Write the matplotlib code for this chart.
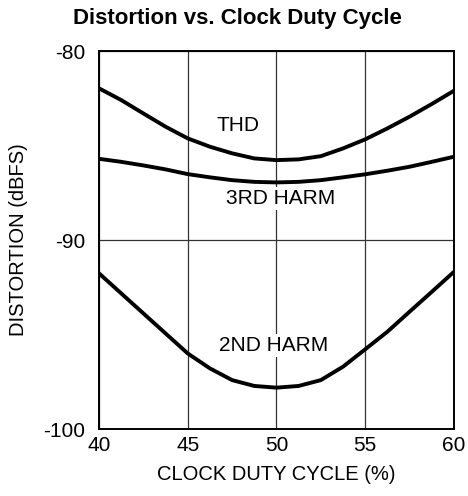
import numpy as np
import matplotlib
matplotlib.use('Agg')
import matplotlib.pyplot as plt

plt.rcParams['font.family'] = ['Liberation Sans', 'DejaVu Sans']

# Values
duty = [40, 41.25, 42.5, 43.75, 45, 46.25, 47.5, 48.75, 50,
        51.25, 52.5, 53.75, 55, 56.25, 57.5, 58.75, 60]
thd = [-81.97, -82.59, -83.30, -84.0, -84.62, -85.06, -85.41, -85.68, -85.77,
       -85.73, -85.56, -85.15, -84.67, -84.09, -83.47, -82.80, -82.10]
harm3 = [-85.70, -85.86, -86.05, -86.26, -86.51, -86.68, -86.83, -86.92, -86.95,
         -86.92, -86.83, -86.68, -86.52, -86.33, -86.12, -85.86, -85.59]
harm2 = [-91.76, -92.82, -93.88, -94.94, -96.0, -96.79, -97.41, -97.72, -97.81,
         -97.72, -97.41, -96.70, -95.78, -94.85, -93.79, -92.74, -91.68]

x_ticks = [40, 45, 50, 55, 60]
y_ticks = [-100, -90, -80]

fig = plt.figure(figsize=(4.68, 4.96), dpi=100)
ax = fig.add_axes([0.2115, 0.135, 0.7585, 0.762])

for series in (thd, harm3, harm2):
    ax.plot(duty, series, color='black', lw=2.8, solid_joinstyle='round', zorder=3)

box = dict(facecolor='white', edgecolor='none', pad=1.5)
ax.text(47.83, -83.95, 'THD', fontsize=15, ha='center', va='center', zorder=4)
ax.text(50.25, -87.8, '3RD HARM', fontsize=15, ha='center', va='center', bbox=box, zorder=4)
ax.text(49.86, -95.56, '2ND HARM', fontsize=15, ha='center', va='center', bbox=box, zorder=4)

ax.set_xlim(40, 60)
ax.set_ylim(-100, -80)
ax.set_xticks(x_ticks)
ax.set_yticks(y_ticks)
ax.set_xticklabels([str(v) for v in x_ticks])
ax.set_yticklabels([str(v) for v in y_ticks])
ax.tick_params(length=0, labelsize=15, colors='black')
ax.tick_params(axis='x', pad=5)
ax.tick_params(axis='y', pad=10)
ax.grid(True, color='#333333', lw=0.9)
ax.set_axisbelow(True)
for s in ax.spines.values():
    s.set_linewidth(1.4)
    s.set_color('black')

ax.set_xlabel('CLOCK DUTY CYCLE (%)', fontsize=14.5, labelpad=7)
ax.set_ylabel('DISTORTION (dBFS)', fontsize=14.5, labelpad=11)
fig.text(0.508, 0.962, 'Distortion vs. Clock Duty Cycle', fontsize=16,
         fontweight='bold', ha='center', va='center')

fig.savefig('out.png', dpi=100)
